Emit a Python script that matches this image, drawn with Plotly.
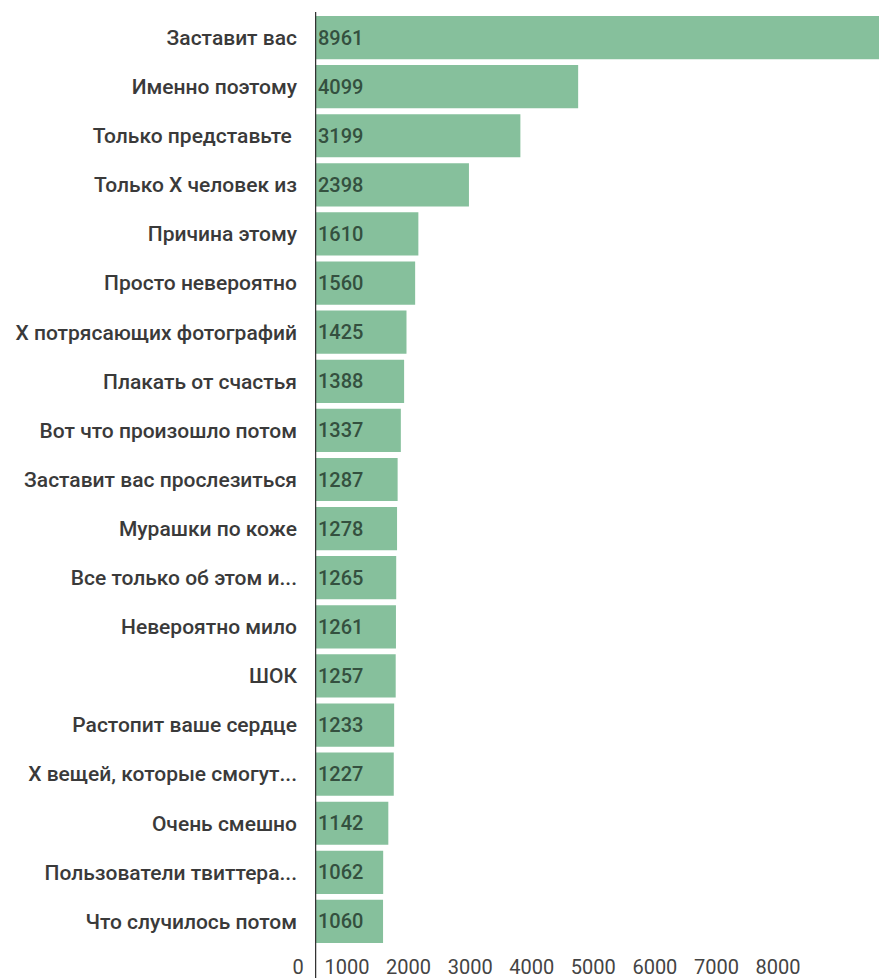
import plotly.graph_objects as go

categories = [
    "Заставит вас", "Именно поэтому", "Только представьте ", "Только Х человек из",
    "Причина этому", "Просто невероятно", "Х потрясающих фотографий", "Плакать от счастья",
    "Вот что произошло потом", "Заставит вас прослезиться", "Мурашки по коже",
    "Все только об этом и...", "Невероятно мило", "ШОК", "Растопит ваше сердце",
    "Х вещей, которые смогут...", "Очень смешно", "Пользователи твиттера...",
    "Что случилось потом",
]
values = [8961, 4099, 3199, 2398, 1610, 1560, 1425, 1388, 1337, 1287, 1278,
          1265, 1261, 1257, 1233, 1227, 1142, 1062, 1060]
tick_values = [1000, 2000, 3000, 4000, 5000, 6000, 7000, 8000]
tick_labels = ["1000", "2000", "3000", "4000", "5000", "6000", "7000", "8000"]

BAR = "#86c09c"
FONT = "Roboto"
n = len(categories)

fig = go.Figure()
fig.add_trace(go.Bar(
    y=categories, x=values, orientation="h",
    marker=dict(color=BAR, line=dict(width=0)),
    text=[str(v) for v in values],
    textposition="inside", insidetextanchor="start",
    textfont=dict(family=FONT, size=20, color="#34503f", weight=500),
    cliponaxis=True, hoverinfo="skip",
))
# invisible trace to activate label axis
fig.add_trace(go.Scatter(x=[tick_values[0]], y=[categories[0]], xaxis="x2",
                         mode="markers", marker=dict(opacity=0), hoverinfo="skip",
                         showlegend=False))

fig.update_layout(
    width=879, height=978,
    margin=dict(l=315, r=0, t=13, b=32),
    paper_bgcolor="white", plot_bgcolor="white",
    showlegend=False, bargap=0.12,
    uniformtext=dict(minsize=20, mode="show"),
    font=dict(family=FONT),
    xaxis=dict(range=[0, 8785], showgrid=False, zeroline=False, showline=False,
               tickvals=[0], ticktext=["0"], ticks="", ticklabelshift=-17,
               ticklabelstandoff=7, automargin=False,
               tickfont=dict(family=FONT, size=20, color="#444444")),
    xaxis2=dict(overlaying="x", anchor="y", side="bottom", range=[480, 9640],
                showgrid=False, zeroline=False, showline=False,
                tickvals=tick_values, ticktext=tick_labels, ticks="",
                ticklabelstandoff=7, automargin=False,
                tickfont=dict(family=FONT, size=20, color="#444444")),
    yaxis=dict(range=[n - 0.5, -0.5], showgrid=False, zeroline=False, showline=False,
               ticks="", ticklabelstandoff=17, automargin=False,
               tickfont=dict(family=FONT, size=21, color="#3a3a3a", weight=500)),
    shapes=[dict(type="line", xref="x", yref="paper", x0=0, x1=0, y0=-0.05, y1=1.001,
                 line=dict(color="#333333", width=2.5))],
)

fig.write_html("out.html", config={"displayModeBar": False},
               post_script="document.body.style.margin='0';")
